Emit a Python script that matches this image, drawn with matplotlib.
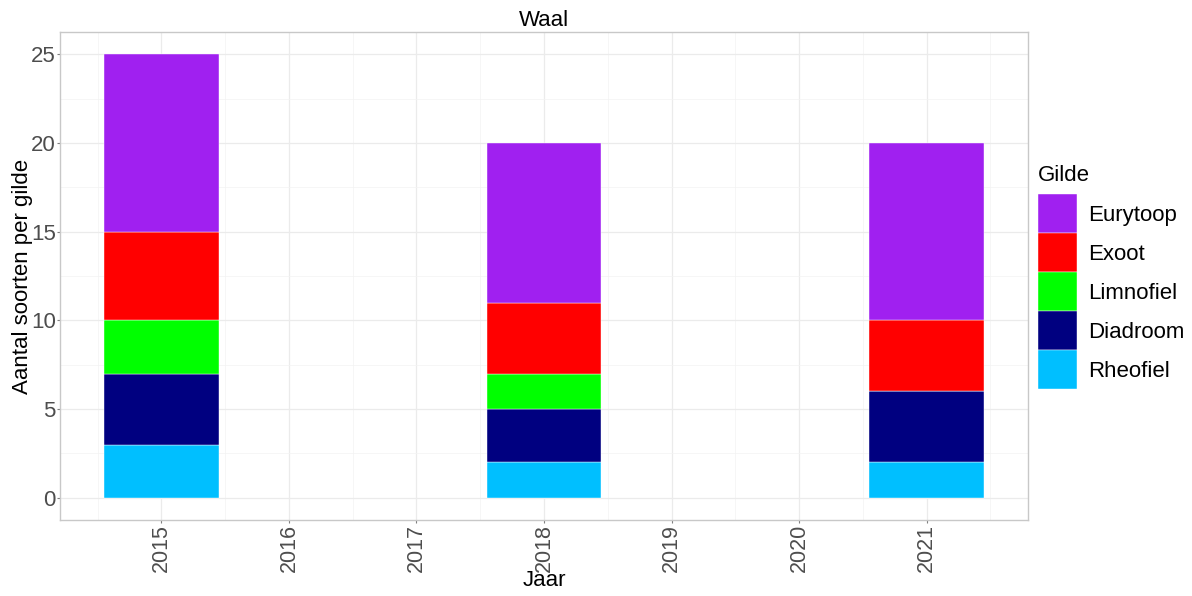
import matplotlib
matplotlib.use("Agg")
import matplotlib.pyplot as plt
from matplotlib.patches import Patch
from matplotlib.ticker import MultipleLocator
import numpy as np

plt.rcParams['font.family'] = ['Liberation Sans', 'DejaVu Sans']

years = [2015, 2018, 2021]
guilds = ["Rheofiel", "Diadroom", "Limnofiel", "Exoot", "Eurytoop"]
rheofiel = [3, 2, 2]
diadroom = [4, 3, 4]
limnofiel = [3, 2, 0]
exoot = [5, 4, 4]
eurytoop = [10, 9, 10]
colors = {
    "Rheofiel": "#00BFFF",
    "Diadroom": "#000080",
    "Limnofiel": "#00FF00",
    "Exoot": "#FF0000",
    "Eurytoop": "#A020F0",
}
series = [rheofiel, diadroom, limnofiel, exoot, eurytoop]

FS = 16

fig = plt.figure(figsize=(11.92, 5.96), dpi=100)
ax = fig.add_axes([60 / 1192, 1 - 520 / 596, (1028 - 60) / 1192, (520 - 32) / 596])

bottom = np.zeros(len(years))
for name, vals in zip(guilds, series):
    v = np.array(vals, dtype=float)
    ax.bar(years, v, bottom=bottom, width=0.9, color=colors[name],
           edgecolor="white", linewidth=0.3, zorder=3)
    bottom += v

ax.set_xlim(2014.205, 2021.795)
ax.set_ylim(-1.25, 26.25)
ax.set_xticks(range(2015, 2022))
ax.set_xticklabels([str(y) for y in range(2015, 2022)], rotation=90)
ax.xaxis.set_minor_locator(MultipleLocator(0.5))
ax.set_yticks(range(0, 26, 5))
ax.yaxis.set_minor_locator(MultipleLocator(2.5))

ax.grid(which="major", color="#EBEBEB", linewidth=0.9, zorder=0)
ax.grid(which="minor", color="#F3F3F3", linewidth=0.5, zorder=0)
ax.set_axisbelow(True)
for s in ax.spines.values():
    s.set_color("#C8C8C8")
    s.set_linewidth(1.0)

ax.tick_params(which="major", length=2.5, width=0.8, color="#7F7F7F",
               labelsize=FS, labelcolor="#4D4D4D", pad=0.5)
ax.tick_params(axis="x", labelsize=15.5)
ax.tick_params(which="minor", length=0)

ax.set_xlabel("Jaar", fontsize=FS, labelpad=-1.5)
ax.set_ylabel("Aantal soorten per gilde", fontsize=FS, labelpad=-1.5)
ax.set_title("Waal", fontsize=FS, pad=4.3)

fs_px = FS * 100 / 72
key_px = 39
hh = (key_px / fs_px - 0.245) / 0.65
handles = [Patch(facecolor=colors[g], edgecolor="white", linewidth=0.3)
           for g in reversed(guilds)]
leg = fig.legend(handles, list(reversed(guilds)), title="Gilde",
                 loc="upper left", bbox_to_anchor=(1038 / 1192, 1 - 165 / 596),
                 frameon=False, fontsize=FS, title_fontsize=FS,
                 handlelength=key_px / fs_px, handleheight=hh, labelspacing=0.0,
                 handletextpad=0.5, borderaxespad=0.0, borderpad=0.0)
leg._legend_box.align = "left"
leg._legend_box.sep = 6

fig.savefig("out.png", dpi=100)
